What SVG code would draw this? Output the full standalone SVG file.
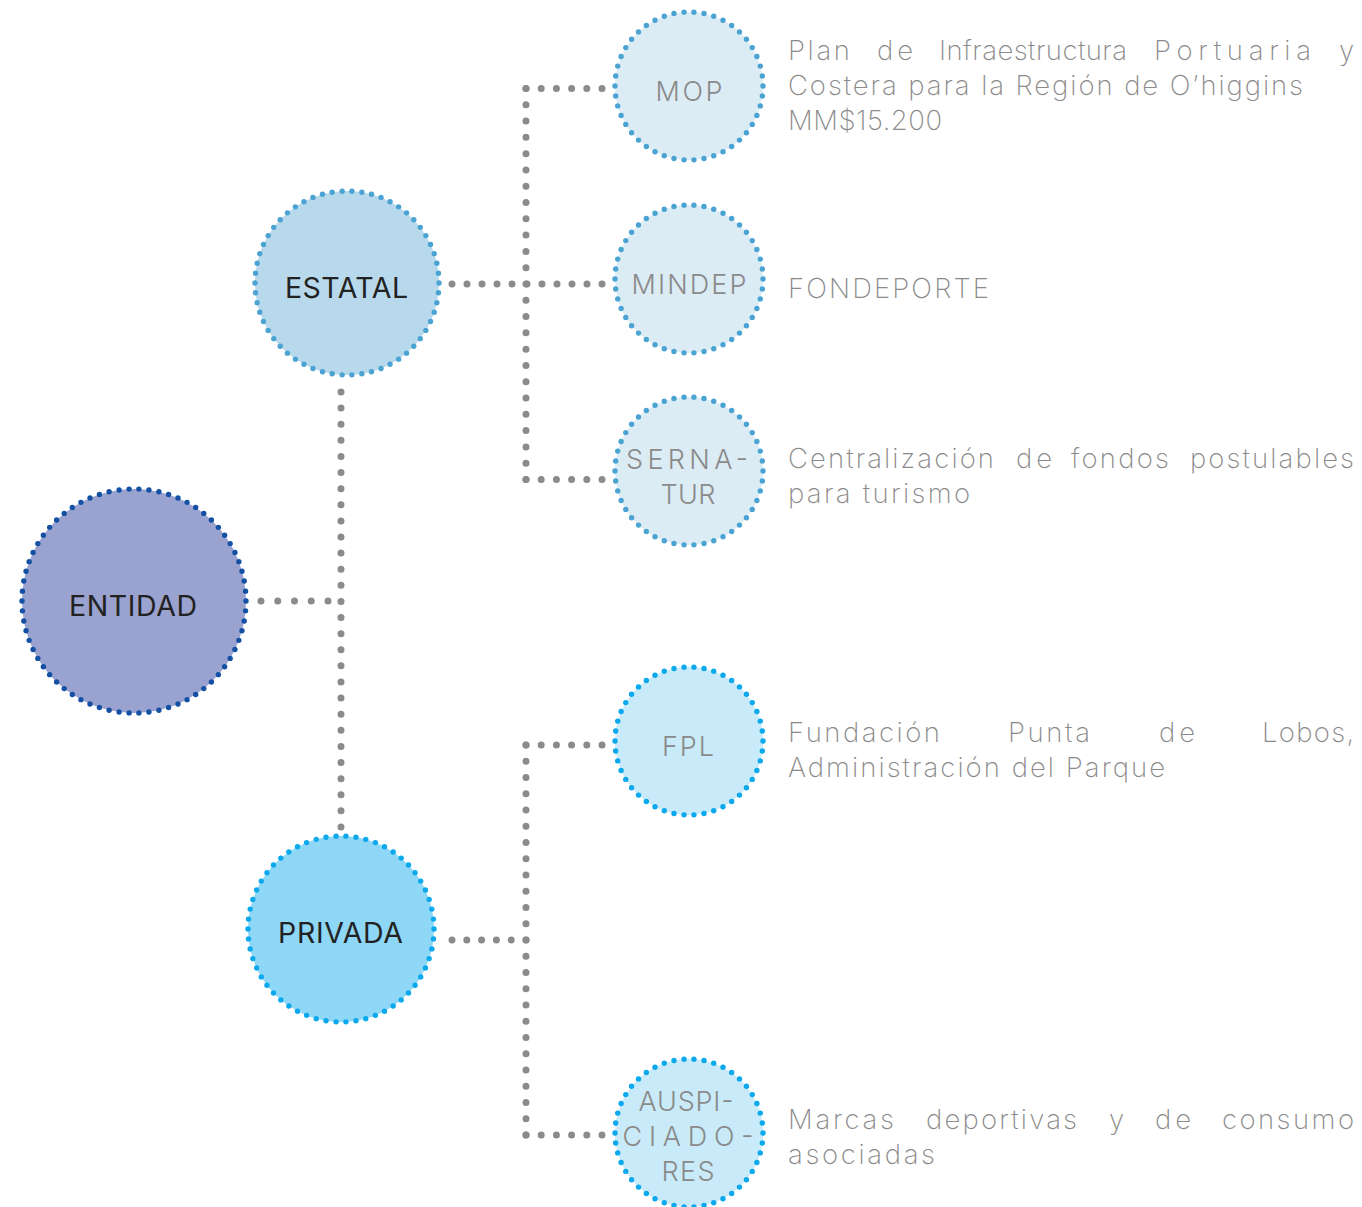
<svg xmlns="http://www.w3.org/2000/svg" width="1362" height="1207" viewBox="0 0 1362 1207">
  <style>
    .link { fill: none; stroke: #8b8b8b; stroke-width: 7; stroke-linecap: round; }
    .ring { stroke-width: 5.4; stroke-linecap: round; stroke-dasharray: 0 10; }
    .root { fill: #9aa3cf; stroke: #1450a3; }
    .state { fill: #b8d9eb; stroke: #4aa3d2; }
    .state-sub { fill: #dcecf5; stroke: #4aa3d2; }
    .priv { fill: #8fd7f6; stroke: #0aa8ec; }
    .priv-sub { fill: #c9eaf9; stroke: #0aa8ec; }
    .head { font-family: Inter, "Liberation Sans", sans-serif; font-size: 28.5px; font-weight: 400; fill: #222222; text-anchor: middle; }
    .sub { font-family: Inter, "Liberation Sans", sans-serif; font-size: 27px; font-weight: 300; fill: #8a8a8a; text-anchor: middle; }
    .desc { font-family: Inter, "Liberation Sans", sans-serif; font-size: 27.5px; font-weight: 250; fill: #8a8a8a; }
  </style>

  <!-- dotted connectors -->
  <g id="connectors">
    <path class="link" d="M261 601 H328.5" stroke-dasharray="0 16.75"/>
    <path class="link" d="M341 392 V827.5" stroke-dasharray="0 16.11"/>
    <path class="link" d="M452 284 H602.5" stroke-dasharray="0 15"/>
    <path class="link" d="M526 88.5 V480" stroke-dasharray="0 16.29"/>
    <path class="link" d="M526 88.5 H602.5" stroke-dasharray="0 15.2"/>
    <path class="link" d="M526 479.5 H602.5" stroke-dasharray="0 15.2"/>
    <path class="link" d="M452 940 H526.5" stroke-dasharray="0 14.8"/>
    <path class="link" d="M526 745 V1135.5" stroke-dasharray="0 16.25"/>
    <path class="link" d="M526 745 H602.5" stroke-dasharray="0 15.2"/>
    <path class="link" d="M526 1135 H602.5" stroke-dasharray="0 15.2"/>
  </g>

  <g id="entidad">
    <circle class="ring root" cx="134" cy="601" r="112" pathLength="700"/>
    <text class="head" x="133" y="616" textLength="128" lengthAdjust="spacing">ENTIDAD</text>
  </g>

  <g id="estatal">
    <circle class="ring state" cx="347" cy="283" r="92" pathLength="580"/>
    <text class="head" x="346.5" y="298" textLength="123" lengthAdjust="spacing">ESTATAL</text>
  </g>

  <g id="privada">
    <circle class="ring priv" cx="341" cy="929" r="93" pathLength="580"/>
    <text class="head" x="340.5" y="943" textLength="125" lengthAdjust="spacing">PRIVADA</text>
  </g>

  <g id="mop">
    <circle class="ring state-sub" cx="689" cy="86" r="74" pathLength="460"/>
    <text class="sub" x="689" y="101" textLength="67" lengthAdjust="spacing">MOP</text>
    <g class="desc">
      <text x="788" y="60" textLength="62" lengthAdjust="spacing">Plan</text>
      <text x="877" y="60" textLength="36" lengthAdjust="spacing">de</text>
      <text x="939" y="60" textLength="188" lengthAdjust="spacing">Infraestructura</text>
      <text x="1154" y="60" textLength="157" lengthAdjust="spacing">Portuaria</text>
      <text x="1339" y="60">y</text>
      <text x="788" y="95" textLength="515" lengthAdjust="spacing">Costera para la Región de O’higgins</text>
      <text x="788" y="130" textLength="154" lengthAdjust="spacing">MM$15.200</text>
    </g>
  </g>

  <g id="mindep">
    <circle class="ring state-sub" cx="689" cy="279" r="74" pathLength="460"/>
    <text class="sub" x="689" y="294" textLength="115" lengthAdjust="spacing">MINDEP</text>
    <text class="desc" x="788" y="298" textLength="201" lengthAdjust="spacing">FONDEPORTE</text>
  </g>

  <g id="sernatur">
    <circle class="ring state-sub" cx="689" cy="471" r="74" pathLength="460"/>
    <text class="sub" x="687" y="469" textLength="122" lengthAdjust="spacing">SERNA-</text>
    <text class="sub" x="688" y="504" textLength="55" lengthAdjust="spacing">TUR</text>
    <g class="desc">
      <text x="788" y="468" textLength="206" lengthAdjust="spacing">Centralización</text>
      <text x="1016" y="468" textLength="36" lengthAdjust="spacing">de</text>
      <text x="1071" y="468" textLength="98" lengthAdjust="spacing">fondos</text>
      <text x="1190" y="468" textLength="164" lengthAdjust="spacing">postulables</text>
      <text x="788" y="503" textLength="182" lengthAdjust="spacing">para turismo</text>
    </g>
  </g>

  <g id="fpl">
    <circle class="ring priv-sub" cx="689" cy="741" r="74" pathLength="460"/>
    <text class="sub" x="688" y="756" textLength="52" lengthAdjust="spacing">FPL</text>
    <g class="desc">
      <text x="788" y="742" textLength="152" lengthAdjust="spacing">Fundación</text>
      <text x="1008" y="742" textLength="82" lengthAdjust="spacing">Punta</text>
      <text x="1159" y="742" textLength="36" lengthAdjust="spacing">de</text>
      <text x="1262" y="742" textLength="92" lengthAdjust="spacing">Lobos,</text>
      <text x="788" y="777" textLength="377" lengthAdjust="spacing">Administración del Parque</text>
    </g>
  </g>

  <g id="auspiciadores">
    <circle class="ring priv-sub" cx="689" cy="1133" r="74" pathLength="460"/>
    <text class="sub" x="686" y="1111" textLength="95" lengthAdjust="spacing">AUSPI-</text>
    <text class="sub" x="688" y="1146" textLength="131" lengthAdjust="spacing">CIADO-</text>
    <text class="sub" x="688" y="1181" textLength="53" lengthAdjust="spacing">RES</text>
    <g class="desc">
      <text x="788" y="1129" textLength="106" lengthAdjust="spacing">Marcas</text>
      <text x="926" y="1129" textLength="151" lengthAdjust="spacing">deportivas</text>
      <text x="1109" y="1129">y</text>
      <text x="1155" y="1129" textLength="36" lengthAdjust="spacing">de</text>
      <text x="1222" y="1129" textLength="132" lengthAdjust="spacing">consumo</text>
      <text x="788" y="1164" textLength="147" lengthAdjust="spacing">asociadas</text>
    </g>
  </g>
</svg>
